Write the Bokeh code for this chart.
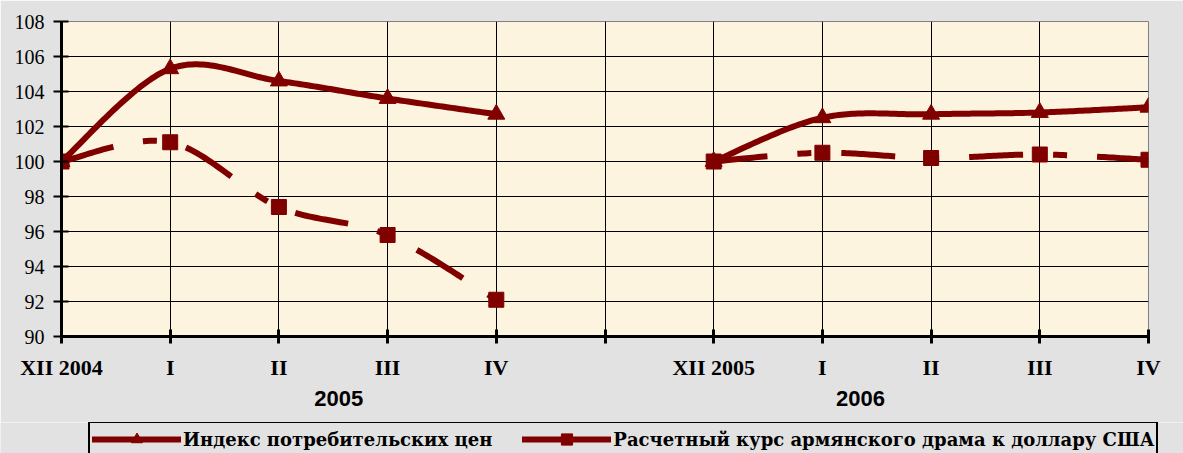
import numpy as np
from bokeh.plotting import figure
from bokeh.layouts import column
from bokeh.models import Range1d, FixedTicker, Legend, LegendItem, LinearAxis
from bokeh.embed import file_html
from bokeh.resources import INLINE

# ---------------- data ----------------
categories = ["XII 2004", "I", "II", "III", "IV", "", "XII 2005", "I", "II", "III", "IV"]
y_ticks = [90, 92, 94, 96, 98, 100, 102, 104, 106, 108]
year_labels = ["2005", "2006"]

cpi_2005 = [100.0, 105.3, 104.6, 103.6, 102.7]
fx_2005 = [100.0, 101.1, 97.4, 95.8, 92.1]
cpi_2006 = [100.0, 102.5, 102.7, 102.8, 103.1]
fx_2006 = [100.0, 100.5, 100.2, 100.4, 100.1]

series_names = ["Индекс потребительских цен",
                "Расчетный курс армянского драма к доллару США"]

RED = "#800000"
GRAY = "#E2E2E2"

cat_x = np.arange(len(categories))
x_2005 = cat_x[0:5]
x_2006 = cat_x[6:11]


def smooth(xs, ys, n=40):
    """Excel-style smoothed line (cubic Bezier through the points)."""
    P = np.column_stack([xs, ys]).astype(float)
    out = [P[0]]
    t = np.linspace(0, 1, n + 1)[1:, None]
    for i in range(len(P) - 1):
        p0 = P[i - 1] if i > 0 else P[i]
        p1 = P[i]
        p2 = P[i + 1]
        p3 = P[i + 2] if i + 2 < len(P) else P[i + 1]
        c1 = p1 + (p2 - p0) / 6.0
        c2 = p2 - (p3 - p1) / 6.0
        B = (1 - t) ** 3 * p1 + 3 * (1 - t) ** 2 * t * c1 + 3 * (1 - t) * t ** 2 * c2 + t ** 3 * p2
        out.extend(B)
    out = np.array(out)
    return out[:, 0], out[:, 1]


p = figure(width=1183, height=422,
           x_range=Range1d(0, len(categories) - 1), y_range=Range1d(y_ticks[0], y_ticks[-1]),
           output_backend="svg", toolbar_location=None,
           min_border_left=61, min_border_right=35, min_border_top=21, min_border_bottom=86,
           background_fill_color="#FCF4DE", border_fill_color=GRAY,
           outline_line_color="#808080", outline_line_width=1)

# category axis
p.xaxis.ticker = FixedTicker(ticks=list(cat_x))
p.xaxis.major_label_overrides = {int(i): c for i, c in zip(cat_x, categories)}
p.xaxis.axis_line_width = 3
p.xaxis.axis_line_color = "black"
p.xaxis.major_tick_in = 7
p.xaxis.major_tick_out = 7
p.xaxis.major_tick_line_width = 3
p.xaxis.minor_tick_line_color = None
p.xaxis.major_label_text_font = "Liberation Serif"
p.xaxis.major_label_text_font_size = "22px"
p.xaxis.major_label_text_font_style = "bold"
p.xaxis.major_label_text_color = "black"
p.xaxis.major_label_standoff = 11

# year axis (second level of the category axis)
year_axis = LinearAxis(ticker=FixedTicker(ticks=[2.55, 7.35]),
                       major_label_overrides={2.55: year_labels[0], 7.35: year_labels[1]},
                       axis_line_color=None, major_tick_line_color=None, minor_tick_line_color=None,
                       major_tick_in=0, major_tick_out=0, major_label_standoff=8,
                       major_label_text_font="Liberation Sans", major_label_text_font_size="22px",
                       major_label_text_font_style="bold", major_label_text_color="black")
p.add_layout(year_axis, "below")

p.yaxis.ticker = FixedTicker(ticks=y_ticks)
p.yaxis.axis_line_width = 3
p.yaxis.axis_line_color = "black"
p.yaxis.major_tick_in = 7
p.yaxis.major_tick_out = 8
p.yaxis.major_tick_line_width = 2
p.yaxis.minor_tick_line_color = None
p.yaxis.major_label_text_font = "Liberation Serif"
p.yaxis.major_label_text_font_size = "20px"
p.yaxis.major_label_text_color = "black"
p.yaxis.major_label_standoff = 9

p.xgrid.ticker = FixedTicker(ticks=list(cat_x))
p.ygrid.ticker = FixedTicker(ticks=y_ticks)
for g in (p.xgrid, p.ygrid):
    g.grid_line_color = "black"
    g.grid_line_width = 1
    g.grid_line_alpha = 1.0

# series
for xs, cpi, fx in ((x_2005, cpi_2005, fx_2005), (x_2006, cpi_2006, fx_2006)):
    sx, sy = smooth(xs, cpi)
    p.line(sx, sy, line_color=RED, line_width=6, line_join="round", line_cap="round")
    fx_sx, fx_sy = smooth(xs, fx)
    p.line(fx_sx, fx_sy, line_color=RED, line_width=6, line_join="round", line_cap="butt",
           line_dash="54 30 14 30")
    p.scatter(xs, cpi, marker="triangle", size=17, fill_color=RED, line_color=RED)
    p.scatter(xs, fx, marker="square", size=15, fill_color=RED, line_color=RED)

# legend strip (separate canvas below the chart); placeholder renderers hold no visible point
lf = figure(width=1183, height=31, x_range=Range1d(0, 1), y_range=Range1d(0, 1),
            x_axis_type=None, y_axis_type=None,
            output_backend="svg", toolbar_location=None,
            min_border_left=0, min_border_right=0, min_border_top=0, min_border_bottom=0,
            background_fill_color=GRAY, border_fill_color=GRAY, outline_line_color=None)
lf.grid.visible = False
for fig in (p, lf):
    if "frame_align" in fig.properties():
        fig.frame_align = False

nan = np.array([np.nan])
l1 = lf.line(x=nan, y=nan, line_color=RED, line_width=6, line_cap="round")
m1 = lf.scatter(x=nan, y=nan, marker="triangle", fill_color=RED, line_color=RED)
l2 = lf.line(x=nan, y=nan, line_color=RED, line_width=6, line_cap="round")
m2 = lf.scatter(x=nan, y=nan, marker="square", fill_color=RED, line_color=RED)
legend = Legend(items=[LegendItem(label=series_names[0], renderers=[l1, m1]),
                       LegendItem(label=series_names[1], renderers=[l2, m2])],
                orientation="horizontal", location=(88, -4),
                glyph_width=89, glyph_height=28, label_standoff=2, spacing=30,
                padding=2, margin=0,
                border_line_color="black", border_line_width=2, border_line_alpha=1.0,
                background_fill_alpha=0.0,
                label_text_font="DejaVu Serif", label_text_font_style="bold",
                label_text_font_size="18px", label_text_color="black")
lf.add_layout(legend, "center")

layout = column(p, lf, spacing=0)
open("out.html", "w").write(file_html(layout, INLINE))
